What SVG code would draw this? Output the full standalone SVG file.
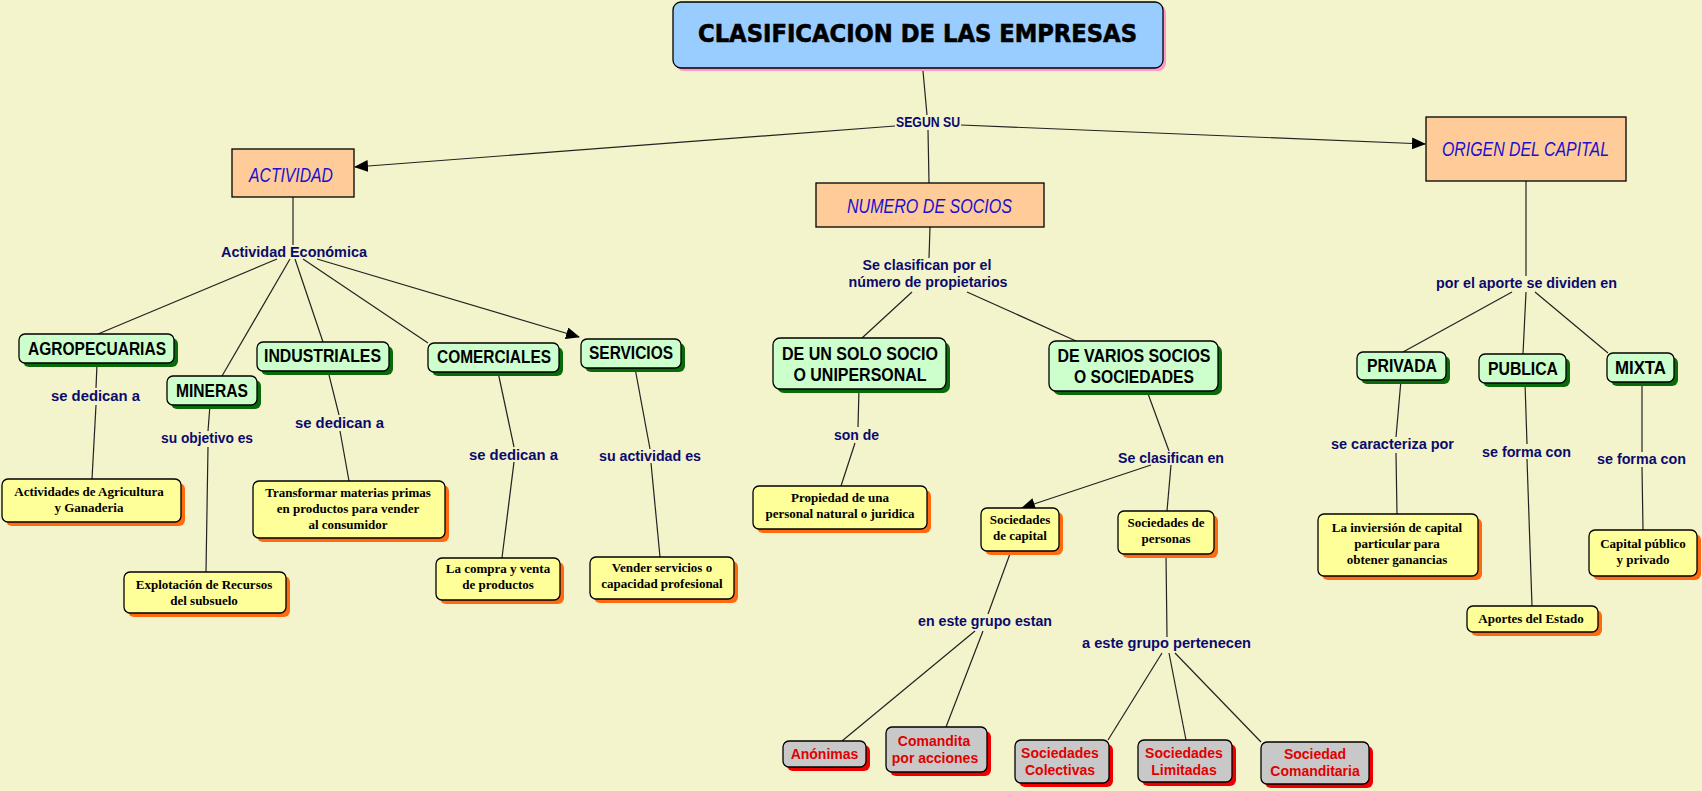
<svg xmlns="http://www.w3.org/2000/svg" width="1702" height="791" viewBox="0 0 1702 791">
<defs>
<marker id="arr" markerUnits="userSpaceOnUse" markerWidth="14" markerHeight="12" refX="13" refY="6" orient="auto">
<path d="M0,0 L14,6 L0,12 z" fill="#000"/>
</marker>
<style>
.bg{fill:#f3f4cb}
.ln{stroke:#222;stroke-width:1.2;fill:none}
.peach{fill:#ffcc99;stroke:#000;stroke-width:1.3}
.pt{font-family:"Liberation Sans",Arial,sans-serif;font-style:italic;font-size:20px;fill:#1a10d0;text-anchor:middle}
.gsh{fill:#0a6a0a}
.gbox{fill:#ccffcc;stroke:#000;stroke-width:1.3}
.gt{font-family:"Liberation Sans",Arial,sans-serif;font-weight:bold;font-size:18px;fill:#000;text-anchor:middle}
.ysh{fill:#ff6a10}
.ybox{fill:#ffff99;stroke:#000;stroke-width:1.3}
.yt{font-family:"Liberation Serif","Times New Roman",serif;font-weight:bold;font-size:13px;fill:#000;text-anchor:middle}
.rsh{fill:#ee0000}
.rbox{fill:#c8c8c8;stroke:#000;stroke-width:1.3}
.rt{font-family:"Liberation Sans",Arial,sans-serif;font-weight:bold;font-size:14px;fill:#e00000;text-anchor:middle}
.lb{font-family:"Liberation Sans",Arial,sans-serif;font-weight:bold;font-size:14px;fill:#0a0a6e;text-anchor:middle}
</style>
</defs>
<rect class="bg" x="0" y="0" width="1702" height="791"/>

<g id="connectors">
<line class="ln" x1="923" y1="71" x2="927" y2="115"/>
<line class="ln" x1="895" y1="126" x2="355" y2="167" marker-end="url(#arr)"/>
<line class="ln" x1="961" y1="125" x2="1425" y2="144" marker-end="url(#arr)"/>
<line class="ln" x1="928" y1="130" x2="929" y2="183"/>
<line class="ln" x1="293" y1="197" x2="293" y2="245"/>
<line class="ln" x1="277" y1="259" x2="98" y2="334"/>
<line class="ln" x1="290" y1="259" x2="222" y2="376"/>
<line class="ln" x1="295" y1="259" x2="323" y2="342"/>
<line class="ln" x1="303" y1="259" x2="428" y2="343"/>
<line class="ln" x1="317" y1="259" x2="579" y2="337" marker-end="url(#arr)"/>
<line class="ln" x1="97" y1="364" x2="96" y2="388"/>
<line class="ln" x1="96" y1="405" x2="92" y2="479"/>
<line class="ln" x1="210" y1="405" x2="208" y2="431"/>
<line class="ln" x1="208" y1="447" x2="206" y2="572"/>
<line class="ln" x1="328" y1="371" x2="339" y2="415"/>
<line class="ln" x1="340" y1="431" x2="349" y2="481"/>
<line class="ln" x1="498" y1="372" x2="514" y2="447"/>
<line class="ln" x1="514" y1="462" x2="502" y2="558"/>
<line class="ln" x1="635" y1="368" x2="650" y2="449"/>
<line class="ln" x1="651" y1="463" x2="660" y2="557"/>
<line class="ln" x1="930" y1="227" x2="929" y2="258"/>
<line class="ln" x1="912" y1="292" x2="862" y2="338"/>
<line class="ln" x1="967" y1="292" x2="1076" y2="341"/>
<line class="ln" x1="859" y1="389" x2="858" y2="427"/>
<line class="ln" x1="855" y1="443" x2="841" y2="486"/>
<line class="ln" x1="1147" y1="391" x2="1169" y2="451"/>
<line class="ln" x1="1151" y1="465" x2="1022" y2="508" marker-end="url(#arr)"/>
<line class="ln" x1="1171" y1="465" x2="1167" y2="511"/>
<line class="ln" x1="1011" y1="551" x2="988" y2="614"/>
<line class="ln" x1="975" y1="631" x2="842" y2="741"/>
<line class="ln" x1="983" y1="631" x2="946" y2="727"/>
<line class="ln" x1="1166" y1="554" x2="1167" y2="637"/>
<line class="ln" x1="1162" y1="653" x2="1108" y2="740"/>
<line class="ln" x1="1169" y1="653" x2="1186" y2="740"/>
<line class="ln" x1="1175" y1="653" x2="1261" y2="742"/>
<line class="ln" x1="1526" y1="181" x2="1526" y2="276"/>
<line class="ln" x1="1512" y1="292" x2="1403" y2="352"/>
<line class="ln" x1="1526" y1="292" x2="1523" y2="354"/>
<line class="ln" x1="1535" y1="292" x2="1608" y2="353"/>
<line class="ln" x1="1401" y1="380" x2="1396" y2="437"/>
<line class="ln" x1="1396" y1="453" x2="1397" y2="514"/>
<line class="ln" x1="1525" y1="383" x2="1527" y2="444"/>
<line class="ln" x1="1527" y1="459" x2="1532" y2="606"/>
<line class="ln" x1="1642" y1="382" x2="1642" y2="452"/>
<line class="ln" x1="1642" y1="467" x2="1643" y2="530"/>
</g>

<g id="title">
<rect x="676" y="5" width="490" height="66" rx="8" fill="#ff99cc"/>
<rect x="673" y="2" width="490" height="66" rx="8" fill="#99ccff" stroke="#000" stroke-width="1.3"/>
<text x="917.5" y="42" font-family="'DejaVu Sans',Verdana,sans-serif" font-weight="bold" font-size="24" fill="#000" stroke="#000" stroke-width="0.6" text-anchor="middle" textLength="439" lengthAdjust="spacingAndGlyphs">CLASIFICACION DE LAS EMPRESAS</text>
</g>

<g id="lbl-segun"><text class="lb" x="928" y="127" font-size="13" textLength="64" lengthAdjust="spacingAndGlyphs">SEGUN SU</text></g>

<g id="actividad">
<rect class="peach" x="232" y="149" width="122" height="48"/>
<text class="pt" x="291" y="182" textLength="84" lengthAdjust="spacingAndGlyphs">ACTIVIDAD</text>
</g>
<g id="numero">
<rect class="peach" x="816" y="183" width="228" height="44"/>
<text class="pt" x="929.5" y="213" textLength="165" lengthAdjust="spacingAndGlyphs">NUMERO DE SOCIOS</text>
</g>
<g id="origen">
<rect class="peach" x="1426" y="117" width="200" height="64"/>
<text class="pt" x="1525.5" y="156" textLength="167" lengthAdjust="spacingAndGlyphs">ORIGEN DEL CAPITAL</text>
</g>

<g id="lbl-actecon"><text class="lb" x="294" y="257" textLength="146" lengthAdjust="spacingAndGlyphs">Actividad Económica</text></g>
<g id="lbl-clasif-prop">
<text class="lb" x="927" y="270" textLength="129" lengthAdjust="spacingAndGlyphs">Se clasifican por el</text>
<text class="lb" x="928" y="287" textLength="159" lengthAdjust="spacingAndGlyphs">número de propietarios</text>
</g>
<g id="lbl-aporte"><text class="lb" x="1526.5" y="288" textLength="181" lengthAdjust="spacingAndGlyphs">por el aporte se dividen en</text></g>

<g id="agropecuarias">
<rect class="gsh" x="23" y="338" width="155" height="29" rx="6"/>
<rect class="gbox" x="19" y="334" width="155" height="29" rx="6"/>
<text class="gt" x="97" y="355" textLength="138" lengthAdjust="spacingAndGlyphs">AGROPECUARIAS</text>
</g>
<g id="mineras">
<rect class="gsh" x="171" y="380" width="90" height="29" rx="6"/>
<rect class="gbox" x="167" y="376" width="90" height="29" rx="6"/>
<text class="gt" x="212" y="397" textLength="72" lengthAdjust="spacingAndGlyphs">MINERAS</text>
</g>
<g id="industriales">
<rect class="gsh" x="261" y="346" width="132" height="29" rx="6"/>
<rect class="gbox" x="257" y="342" width="132" height="29" rx="6"/>
<text class="gt" x="322.5" y="362" textLength="117" lengthAdjust="spacingAndGlyphs">INDUSTRIALES</text>
</g>
<g id="comerciales">
<rect class="gsh" x="432" y="347" width="131" height="29" rx="6"/>
<rect class="gbox" x="428" y="343" width="131" height="29" rx="6"/>
<text class="gt" x="494" y="363" textLength="114" lengthAdjust="spacingAndGlyphs">COMERCIALES</text>
</g>
<g id="servicios">
<rect class="gsh" x="585" y="343" width="100" height="29" rx="6"/>
<rect class="gbox" x="581" y="339" width="100" height="29" rx="6"/>
<text class="gt" x="631" y="359" textLength="84" lengthAdjust="spacingAndGlyphs">SERVICIOS</text>
</g>
<g id="unsolo">
<rect class="gsh" x="777" y="342" width="173" height="51" rx="7"/>
<rect class="gbox" x="773" y="338" width="173" height="51" rx="7"/>
<text class="gt" x="860" y="360" textLength="156" lengthAdjust="spacingAndGlyphs">DE UN SOLO SOCIO</text>
<text class="gt" x="860" y="381" textLength="133" lengthAdjust="spacingAndGlyphs">O UNIPERSONAL</text>
</g>
<g id="varios">
<rect class="gsh" x="1053" y="345" width="169" height="50" rx="7"/>
<rect class="gbox" x="1049" y="341" width="169" height="50" rx="7"/>
<text class="gt" x="1134" y="362" textLength="153" lengthAdjust="spacingAndGlyphs">DE VARIOS SOCIOS</text>
<text class="gt" x="1134" y="383" textLength="120" lengthAdjust="spacingAndGlyphs">O SOCIEDADES</text>
</g>
<g id="privada">
<rect class="gsh" x="1361" y="356" width="89" height="28" rx="6"/>
<rect class="gbox" x="1357" y="352" width="89" height="28" rx="6"/>
<text class="gt" x="1402" y="372" textLength="70" lengthAdjust="spacingAndGlyphs">PRIVADA</text>
</g>
<g id="publica">
<rect class="gsh" x="1483" y="358" width="87" height="29" rx="6"/>
<rect class="gbox" x="1479" y="354" width="87" height="29" rx="6"/>
<text class="gt" x="1523" y="375" textLength="70" lengthAdjust="spacingAndGlyphs">PUBLICA</text>
</g>
<g id="mixta">
<rect class="gsh" x="1611" y="357" width="67" height="29" rx="6"/>
<rect class="gbox" x="1607" y="353" width="67" height="29" rx="6"/>
<text class="gt" x="1640.5" y="374" textLength="51" lengthAdjust="spacingAndGlyphs">MIXTA</text>
</g>

<g id="lbl-dedican-agro"><text class="lb" x="95.5" y="401" textLength="89" lengthAdjust="spacingAndGlyphs">se dedican a</text></g>
<g id="lbl-objetivo"><text class="lb" x="207" y="443" textLength="92" lengthAdjust="spacingAndGlyphs">su objetivo es</text></g>
<g id="lbl-dedican-ind"><text class="lb" x="339.5" y="428" textLength="89" lengthAdjust="spacingAndGlyphs">se dedican a</text></g>
<g id="lbl-dedican-com"><text class="lb" x="513.5" y="460" textLength="89" lengthAdjust="spacingAndGlyphs">se dedican a</text></g>
<g id="lbl-actividad-es"><text class="lb" x="650" y="461" textLength="102" lengthAdjust="spacingAndGlyphs">su actividad es</text></g>
<g id="lbl-sonde"><text class="lb" x="856.5" y="440" textLength="45" lengthAdjust="spacingAndGlyphs">son de</text></g>
<g id="lbl-clasif-en"><text class="lb" x="1171" y="463" textLength="106" lengthAdjust="spacingAndGlyphs">Se clasifican en</text></g>
<g id="lbl-grupo-estan"><text class="lb" x="985" y="626" textLength="134" lengthAdjust="spacingAndGlyphs">en este grupo estan</text></g>
<g id="lbl-grupo-pert"><text class="lb" x="1166.5" y="648" textLength="169" lengthAdjust="spacingAndGlyphs">a este grupo pertenecen</text></g>
<g id="lbl-caracteriza"><text class="lb" x="1392.5" y="449" textLength="123" lengthAdjust="spacingAndGlyphs">se caracteriza por</text></g>
<g id="lbl-forma-pub"><text class="lb" x="1526.5" y="457" textLength="89" lengthAdjust="spacingAndGlyphs">se forma con</text></g>
<g id="lbl-forma-mix"><text class="lb" x="1641.5" y="464" textLength="89" lengthAdjust="spacingAndGlyphs">se forma con</text></g>

<g id="actividades">
<rect class="ysh" x="6" y="483" width="179" height="43" rx="6"/>
<rect class="ybox" x="2" y="479" width="179" height="43" rx="6"/>
<text class="yt" x="89" y="496">Actividades de Agricultura</text>
<text class="yt" x="89" y="512">y Ganaderia</text>
</g>
<g id="explotacion">
<rect class="ysh" x="128" y="576" width="162" height="41" rx="6"/>
<rect class="ybox" x="124" y="572" width="162" height="41" rx="6"/>
<text class="yt" x="204" y="589">Explotación de Recursos</text>
<text class="yt" x="204" y="605">del subsuelo</text>
</g>
<g id="transformar">
<rect class="ysh" x="257" y="485" width="192" height="57" rx="6"/>
<rect class="ybox" x="253" y="481" width="192" height="57" rx="6"/>
<text class="yt" x="348" y="497">Transformar materias primas</text>
<text class="yt" x="348" y="513">en productos para vender</text>
<text class="yt" x="348" y="529">al consumidor</text>
</g>
<g id="compra">
<rect class="ysh" x="440" y="562" width="124" height="42" rx="6"/>
<rect class="ybox" x="436" y="558" width="124" height="42" rx="6"/>
<text class="yt" x="498" y="573">La compra y venta</text>
<text class="yt" x="498" y="589">de productos</text>
</g>
<g id="vender">
<rect class="ysh" x="594" y="561" width="144" height="42" rx="6"/>
<rect class="ybox" x="590" y="557" width="144" height="42" rx="6"/>
<text class="yt" x="662" y="572">Vender servicios o</text>
<text class="yt" x="662" y="588">capacidad profesional</text>
</g>
<g id="propiedad">
<rect class="ysh" x="757" y="490" width="174" height="43" rx="6"/>
<rect class="ybox" x="753" y="486" width="174" height="43" rx="6"/>
<text class="yt" x="840" y="502">Propiedad de una</text>
<text class="yt" x="840" y="518">personal natural o juridica</text>
</g>
<g id="soc-capital">
<rect class="ysh" x="985" y="512" width="78" height="43" rx="6"/>
<rect class="ybox" x="981" y="508" width="78" height="43" rx="6"/>
<text class="yt" x="1020" y="524">Sociedades</text>
<text class="yt" x="1020" y="540">de capital</text>
</g>
<g id="soc-personas">
<rect class="ysh" x="1122" y="515" width="96" height="43" rx="6"/>
<rect class="ybox" x="1118" y="511" width="96" height="43" rx="6"/>
<text class="yt" x="1166" y="527">Sociedades de</text>
<text class="yt" x="1166" y="543">personas</text>
</g>
<g id="inversion">
<rect class="ysh" x="1322" y="518" width="160" height="62" rx="6"/>
<rect class="ybox" x="1318" y="514" width="160" height="62" rx="6"/>
<text class="yt" x="1397" y="532">La inviersión de capital</text>
<text class="yt" x="1397" y="548">particular para</text>
<text class="yt" x="1397" y="564">obtener ganancias</text>
</g>
<g id="aportes">
<rect class="ysh" x="1471" y="610" width="131" height="26" rx="6"/>
<rect class="ybox" x="1467" y="606" width="131" height="26" rx="6"/>
<text class="yt" x="1531" y="623">Aportes del Estado</text>
</g>
<g id="capital-mixto">
<rect class="ysh" x="1593" y="534" width="108" height="46" rx="6"/>
<rect class="ybox" x="1589" y="530" width="108" height="46" rx="6"/>
<text class="yt" x="1643" y="548">Capital público</text>
<text class="yt" x="1643" y="564">y privado</text>
</g>

<g id="anonimas">
<rect class="rsh" x="787" y="745" width="83" height="26" rx="6"/>
<rect class="rbox" x="783" y="741" width="83" height="26" rx="6"/>
<text class="rt" x="824.5" y="759">Anónimas</text>
</g>
<g id="comandita-acciones">
<rect class="rsh" x="890" y="731" width="101" height="45" rx="6"/>
<rect class="rbox" x="886" y="727" width="101" height="45" rx="6"/>
<text class="rt" x="934" y="746">Comandita</text>
<text class="rt" x="935" y="763">por acciones</text>
</g>
<g id="colectivas">
<rect class="rsh" x="1019" y="744" width="94" height="43" rx="6"/>
<rect class="rbox" x="1015" y="740" width="94" height="43" rx="6"/>
<text class="rt" x="1060" y="758">Sociedades</text>
<text class="rt" x="1060" y="775">Colectivas</text>
</g>
<g id="limitadas">
<rect class="rsh" x="1142" y="744" width="94" height="42" rx="6"/>
<rect class="rbox" x="1138" y="740" width="94" height="42" rx="6"/>
<text class="rt" x="1184" y="758">Sociedades</text>
<text class="rt" x="1184" y="775">Limitadas</text>
</g>
<g id="comanditaria">
<rect class="rsh" x="1265" y="746" width="108" height="42" rx="6"/>
<rect class="rbox" x="1261" y="742" width="108" height="42" rx="6"/>
<text class="rt" x="1315" y="759">Sociedad</text>
<text class="rt" x="1315" y="776">Comanditaria</text>
</g>
</svg>
